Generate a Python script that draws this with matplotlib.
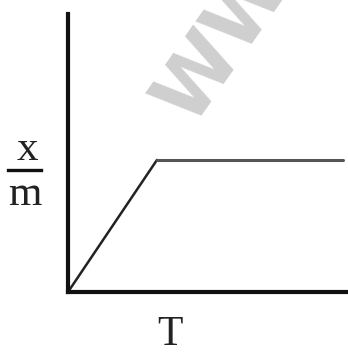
import matplotlib.pyplot as plt
from matplotlib.lines import Line2D

# adsorption (x/m) vs temperature, schematic
T = [0.0, 0.32, 0.99]
xm = [0.0, 0.475, 0.475]

W, H = 348, 353
fig = plt.figure(figsize=(W / 100, H / 100), dpi=100)
ax = fig.add_axes([68 / W, 1 - 292 / H, (346 - 68) / W, (292 - 14) / H])
ax.set_xlim(0, 1)
ax.set_ylim(0, 1)

# watermark behind the chart (cut off at the top, as in the source)
fig.text(250 / W, 1 - 5 / H, 'WWW', fontsize=58, fontweight='bold', color='#cfcfcf',
         rotation=55, ha='center', va='center', family='DejaVu Sans', zorder=0)

ax.plot(T[:2], xm[:2], color='#222222', lw=1.8, solid_capstyle='round')
ax.plot(T[1:], xm[1:], color='#555555', lw=2.2, solid_capstyle='round')

for s in ['top', 'right']:
    ax.spines[s].set_visible(False)
for s in ['left', 'bottom']:
    ax.spines[s].set_linewidth(3)
    ax.spines[s].set_color('#111111')
ax.set_xticks([])
ax.set_yticks([])
ax.patch.set_alpha(0)

serif = ['Liberation Serif', 'DejaVu Serif']
fig.text(27 / W, 1 - 160 / H, 'x', fontsize=31, family=serif, ha='center', va='baseline', color='#222222')
fig.text(25 / W, 1 - 205 / H, 'm', fontsize=31, family=serif, ha='center', va='baseline', color='#222222')
fig.add_artist(Line2D([8 / W, 41 / W], [1 - 170 / H, 1 - 170 / H], transform=fig.transFigure,
                      color='#111111', lw=2.4))
fig.text(170 / W, 1 - 345 / H, 'T', fontsize=30, family=serif, ha='center', va='baseline', color='#222222')

fig.savefig('out.png', dpi=100)
